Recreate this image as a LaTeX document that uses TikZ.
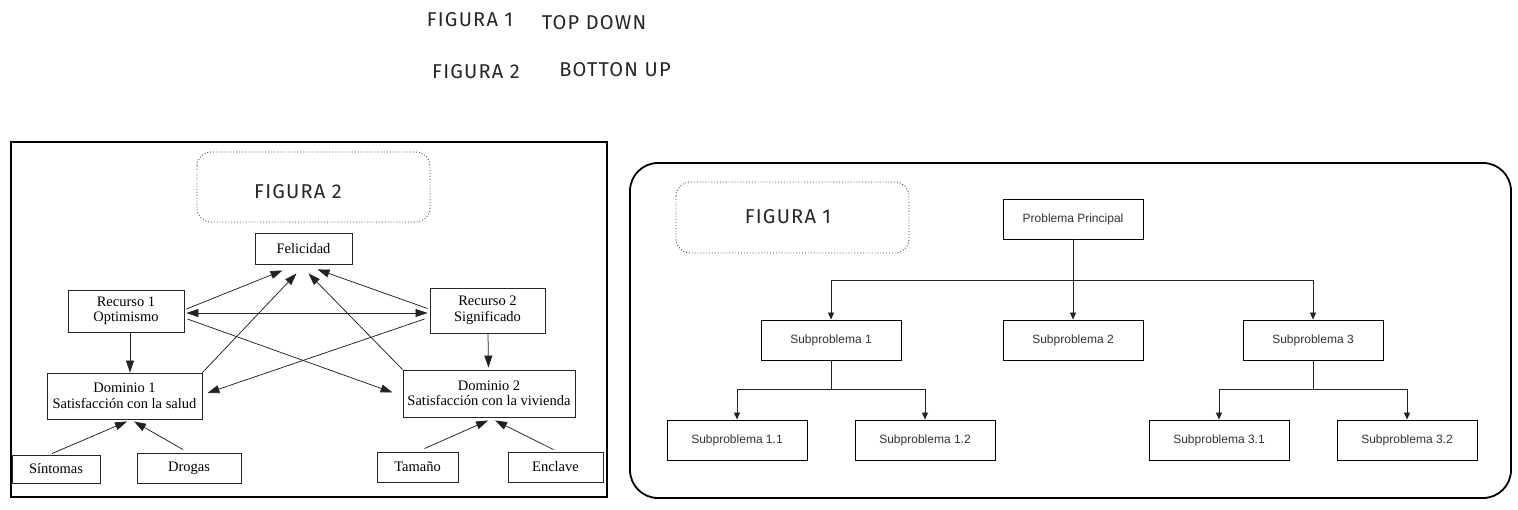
\documentclass[tikz,border=0pt]{standalone}
\usepackage{fontspec}
\setmainfont{Liberation Serif}
\newfontfamily\arialf{Liberation Sans}
\newfontfamily\handf[LetterSpace=6]{Fira Sans}
\usetikzlibrary{arrows.meta,calc}
\definecolor{txtgray}{HTML}{333333}
\definecolor{linegray}{HTML}{222222}
\tikzset{
  handtxt/.style={font=\handf\fontsize{20}{22}\selectfont, text=black!85, inner sep=0pt},
  serifbox/.style={draw=black!85, line width=0.9pt, align=center, inner sep=0pt,
    font=\fontsize{14.5}{15.5}\selectfont, text=black},
  subbox/.style={draw=black, line width=0.9pt, minimum width=140pt, minimum height=40pt,
    inner sep=0pt, font=\arialf\fontsize{12}{14}\selectfont, text=txtgray},
  bigarr/.style={draw=linegray, line width=0.75pt, -{Triangle[length=12pt,width=8pt]}},
  bigdarr/.style={draw=linegray, line width=0.75pt, {Triangle[length=12pt,width=8pt]}-{Triangle[length=12pt,width=8pt]}},
  smallarr/.style={draw=linegray, line width=0.8pt, -{Triangle[length=7pt,width=6pt]}},
  plainline/.style={draw=linegray, line width=0.8pt},
  dotbox/.style={draw=black!75, line width=0.9pt, dotted, rounded corners=14pt},
}
\begin{document}
\begin{tikzpicture}[x=1pt,y=-1pt]
\useasboundingbox (0,0) rectangle (1518,509);
\fill[white] (0,0) rectangle (1518,509);

% ---------- titles ----------
\node[handtxt] (t1a) at (470,20) {FIGURA 1};
\node[handtxt] (t1b) at (594,23) {TOP DOWN};
\node[handtxt] (t2a) at (476,72) {FIGURA 2};
\node[handtxt] (t2b) at (615,70) {BOTTON UP};

% ---------- left panel ----------
\draw[line width=2.2pt, black] (11,142) rectangle (607,497);
\draw[dotbox] (197,152) rectangle (430,222);
\node[handtxt] (lf2) at (298,192) {FIGURA 2};

\node[serifbox, minimum width=97pt, minimum height=31pt] (fel) at (303.5,248.5) {Felicidad};
\node[serifbox, minimum width=116pt, minimum height=42pt] (rec1) at (126,311) {Recurso 1\\Optimismo};
\node[serifbox, minimum width=115pt, minimum height=45pt] (rec2) at (487.5,310.5) {Recurso 2\\Significado};
\node[serifbox, minimum width=155pt, minimum height=46pt] (dom1) at (124.5,396) {Dominio 1\\Satisfacción con la salud};
\node[serifbox, minimum width=172pt, minimum height=47pt] (dom2) at (489,393.5) {Dominio 2\\Satisfacción con la vivienda};
\node[serifbox, minimum width=88pt, minimum height=28pt] (sint) at (56,469) {Síntomas};
\node[serifbox, minimum width=104pt, minimum height=30pt] (drog) at (189,468) {Drogas};
\node[serifbox, minimum width=81pt, minimum height=30pt] (tam) at (417.5,467) {Tamaño};
\node[serifbox, minimum width=95pt, minimum height=30pt] (encl) at (555.5,467) {Enclave};

% arrows into Felicidad
\draw[bigarr] ($(rec1.east)+(2,-2)$) -- ($(fel.south)+(-21,6)$);
\draw[bigarr] (dom1.north east) -- ($(fel.south)+(-7,9)$);
\draw[bigarr] (dom2.north west) -- ($(fel.south)+(5,9)$);
\draw[bigarr] ($(rec2.west)+(-2,-2)$) -- ($(fel.south)+(14,5)$);
% double arrow between resources
\draw[bigdarr] ($(rec1.east)+(2,2)$) -- ($(rec2.west)+(-2,2.5)$);
% crossing arrows
\draw[bigarr] ($(rec1.east)+(3,8)$) -- ($(dom2.west)+(-10,-1)$);
\draw[bigarr] ($(rec2.west)+(-5,8.5)$) -- ($(dom1.east)+(5,-3)$);
% vertical arrows
\draw[bigarr] ($(rec1.south)+(4,0)$) -- ($(dom1.north)+(5.5,0)$);
\draw[bigarr] ($(rec2.south)+(0.5,0)$) -- ($(dom2.north)+(-0.5,-2)$);
% bottom arrows
\draw[bigarr] ($(sint.north)+(-4,-1)$) -- ($(dom1.south)+(2.5,2)$);
\draw[bigarr] ($(drog.north)+(-6,-3)$) -- ($(dom1.south)+(9.5,2)$);
\draw[bigarr] ($(tam.north)+(7,-3)$) -- ($(dom2.south)+(-1,3)$);
\draw[bigarr] ($(encl.north)+(-2,-2)$) -- ($(dom2.south)+(6,3)$);

% ---------- right panel ----------
\draw[line width=1.8pt, black, rounded corners=28pt] (630,163) rectangle (1511,498);
\draw[dotbox] (676,182) rectangle (909,253);
\node[handtxt] (rf1) at (788,217) {FIGURA 1};

\node[subbox] (pp) at (1073,219) {Problema Principal};
\node[subbox] (s1) at (831,340) {Subproblema 1};
\node[subbox] (s2) at (1073,340) {Subproblema 2};
\node[subbox] (s3) at (1313,340) {Subproblema 3};
\node[subbox] (s11) at (737,440) {Subproblema 1.1};
\node[subbox] (s12) at (925,440) {Subproblema 1.2};
\node[subbox] (s31) at (1219,440) {Subproblema 3.1};
\node[subbox] (s32) at (1407,440) {Subproblema 3.2};

\coordinate (j0) at (1073,280);
\coordinate (j1) at (831,389);
\coordinate (j3) at (1313,389);
\draw[smallarr] (pp.south) -- (s2.north);
\draw[smallarr] (j0) -| (s1.north);
\draw[smallarr] (j0) -| (s3.north);
\draw[plainline] (s1.south) -- (j1);
\draw[smallarr] (j1) -| (s11.north);
\draw[smallarr] (j1) -| (s12.north);
\draw[plainline] (s3.south) -- (j3);
\draw[smallarr] (j3) -| (s31.north);
\draw[smallarr] (j3) -| (s32.north);
\end{tikzpicture}
\end{document}
